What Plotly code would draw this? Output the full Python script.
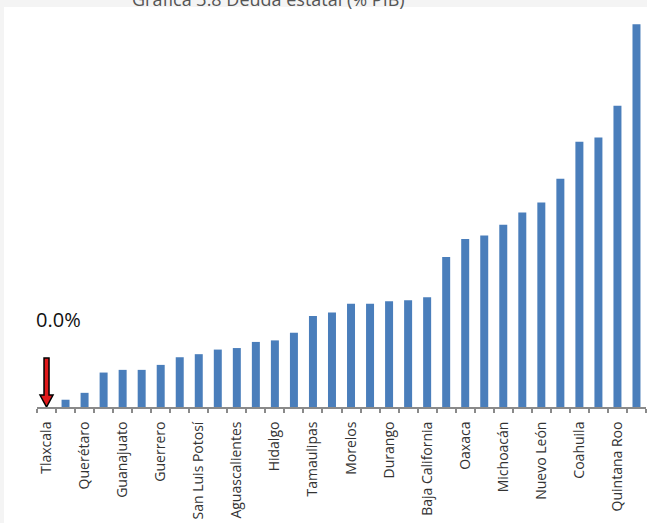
import plotly.graph_objects as go

# 32 states, ordered as in the chart; only every other bar is labelled in the source
state_labels = ["Tlaxcala", "", "Querétaro", "", "Guanajuato", "", "Guerrero", "",
                "San Luis Potosí", "", "Aguascalientes", "", "Hidalgo", "", "Tamaulipas", "",
                "Morelos", "", "Durango", "", "Baja California", "", "Oaxaca", "",
                "Michoacán", "", "Nuevo León", "", "Coahuila", "", "Quintana Roo", ""]
debt_pct = [0.0, 0.19, 0.37, 0.90, 0.97, 0.97, 1.10, 1.30,
            1.38, 1.50, 1.54, 1.70, 1.74, 1.94, 2.38, 2.47,
            2.70, 2.70, 2.76, 2.79, 2.87, 3.92, 4.39, 4.48,
            4.76, 5.08, 5.34, 5.96, 6.93, 7.04, 7.87, 10.0]
title_text = "Gráfica 3.8 Deuda estatal (% PIB)"
zero_label = "0.0%"

W, H = 647, 523
ML, MR, MT, MB = 37, 1, 20, 115.5
pw = W - ML - MR
ph = H - MT - MB

def px_x(p):
    return (p - ML) / pw

def px_y(p):
    return (H - MB - p) / ph

pos = list(range(1, len(debt_pct) + 1))
tick_pos = [p for p, s in zip(pos, state_labels) if s]
tick_txt = [s for s in state_labels if s]

fig = go.Figure()
fig.add_trace(go.Bar(x=pos, y=debt_pct, marker=dict(color="#4A7EBB", line=dict(width=0)),
                     hoverinfo="y"))

fig.update_layout(
    width=W, height=H,
    margin=dict(l=ML, r=MR, t=MT, b=MB, pad=0),
    paper_bgcolor="#f4f4f4", plot_bgcolor="white",
    bargap=0.58, showlegend=False,
    xaxis=dict(range=[0.5, len(pos) + 0.5], tickvals=tick_pos, ticktext=tick_txt,
               tickangle=-90, ticks="", showgrid=False, zeroline=False,
               showline=True, linecolor="#8a8a8a", linewidth=2,
               tickfont=dict(family="Open Sans", size=14, color="#333333"),
               ticklabelstandoff=7, automargin=False,
               minor=dict(ticks="outside", tick0=0.5, dtick=1, ticklen=4,
                          tickwidth=1.5, tickcolor="#8a8a8a", showgrid=False)),
    yaxis=dict(range=[0, 10.11], visible=False, showgrid=False, zeroline=False),
    shapes=[
        dict(type="rect", xref="paper", yref="paper", layer="below",
             x0=px_x(4), x1=px_x(W + 5), y0=px_y(7), y1=px_y(H + 5),
             fillcolor="white", line=dict(width=0)),
        dict(type="path", xref="x", yref="y", xsizemode="pixel", ysizemode="pixel",
             xanchor=pos[0], yanchor=0,
             path="M0,0 L-6.5,12 L-2.5,12 L-2.5,49 L2.5,49 L2.5,12 L6.5,12 Z",
             fillcolor="#e0191b", line=dict(color="black", width=1.5)),
    ],
    annotations=[
        dict(text=title_text, xref="paper", yref="paper", x=px_x(268), y=px_y(-1),
             xanchor="center", yanchor="middle", showarrow=False,
             font=dict(family="Open Sans", size=18, color="#555555")),
        dict(text=zero_label, xref="x", yref="y", x=pos[0], y=debt_pct[0],
             xshift=12, yshift=88, xanchor="center", yanchor="middle", showarrow=False,
             font=dict(family="Open Sans", size=20, color="#111111")),
    ],
)

fig.write_html("out.html", config={"displayModeBar": False},
               post_script="document.body.style.margin='0';document.body.style.overflow='hidden';")
